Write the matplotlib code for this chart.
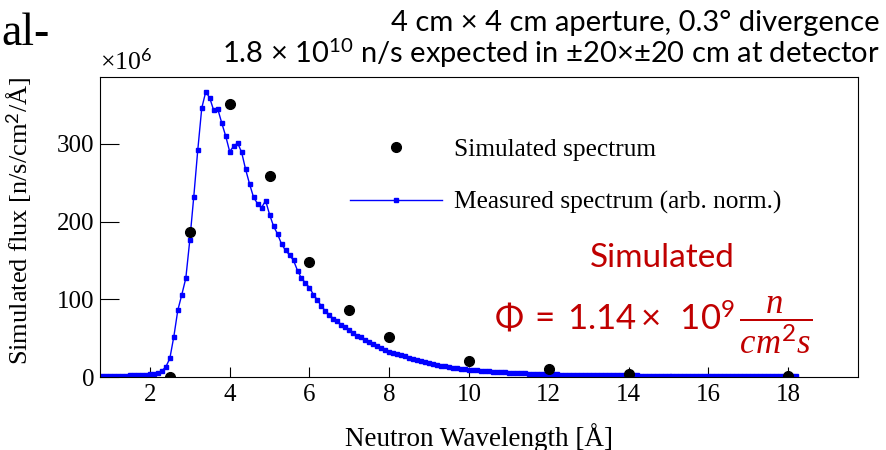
import numpy as np
import matplotlib
matplotlib.use("Agg")
import matplotlib.pyplot as plt

plt.rcParams["mathtext.fontset"] = "custom"
plt.rcParams["mathtext.rm"] = "Lato"
plt.rcParams["mathtext.it"] = "Liberation Serif:italic"
plt.rcParams["mathtext.bf"] = "Lato:bold"

# simulated spectrum (x10^6 n/s/cm2/A)
lam_sim = [2.5, 3, 4, 5, 6, 7, 8, 10, 12, 14, 18]
flux_sim = [0.5, 186, 351, 259, 148, 86, 51.5, 20, 10, 4.5, 1.5]

# measured spectrum, 0.1 A bins from 0.8 to 18.2 A (arb. norm.)
lam_meas = np.round(np.arange(0.8, 18.25, 0.1), 1)
flux_meas = (
    [1.0, 1.2, 1.1, 1.4, 1.5, 1.7, 1.9, 2.1, 2.3, 2.6, 2.9, 3.2]
    + [3.6, 4.4, 5.8, 8.0, 13, 24, 52, 86, 106, 127,
       176, 232, 292, 346, 367, 359, 343, 345, 327, 310,
       290, 297, 301, 289, 267, 248, 231, 223, 218, 227,
       209, 194, 184, 171, 163, 157, 150, 137, 127, 121,
       115, 106, 99, 91, 85, 80, 75, 72, 67, 64,
       60, 57, 53, 51, 47, 45, 42, 40, 37, 35,
       32]
    + [31, 29, 28, 26.5, 25, 23.5, 22, 20.5, 19.5,
       18, 17, 15.5, 14.5, 13.8, 12.8, 12, 11.2, 10.6, 10,
       9.5, 9, 8.6, 8, 7.6, 7.3, 6.8, 6.5, 6.2, 5.9,
       5.6, 5.3, 5.1, 4.8, 4.6, 4.4, 4.2, 4.0, 3.9, 3.7,
       3.5, 3.4, 3.3, 3.2, 3.1, 3.0, 2.9, 2.8, 2.8, 2.7,
       2.6, 2.6, 2.5, 2.4, 2.4, 2.3, 2.3, 2.2, 2.2, 2.1,
       2.1, 2.0, 2.0, 1.9, 1.9, 1.9, 1.8, 1.8, 1.8, 1.7,
       1.7, 1.7, 1.6, 1.6, 1.6, 1.6, 1.5, 1.5, 1.5, 1.5,
       1.4, 1.5, 1.4, 1.4, 1.3, 1.4, 1.3, 1.3, 1.3, 1.2,
       1.2, 1.3, 1.2, 1.2, 1.1, 1.2, 1.1, 1.1, 1.1, 1.0,
       1.0, 1.1, 1.0]
)

x_ticks = [2, 4, 6, 8, 10, 12, 14, 16, 18]
y_ticks = [0, 100, 200, 300]

fig = plt.figure(figsize=(8.86, 4.5), dpi=100)
ax = fig.add_axes([0.1129, 0.1622, 0.8555, 0.6667])

ax.plot(lam_meas, flux_meas, color="#0000ff", lw=1.0, marker="s", ms=2.2,
        mec="#0000ff", label="Measured spectrum (arb. norm.)", zorder=2)
ax.plot(lam_sim, flux_sim, ls="none", marker="o", ms=7, color="black",
        label="Simulated spectrum", zorder=3)

ax.set_xlim(0.75, 19.75)
ax.set_ylim(0, 386)
ax.set_xticks(x_ticks)
ax.set_yticks(y_ticks)

serif = "Liberation Serif"
for lab in ax.get_xticklabels() + ax.get_yticklabels():
    lab.set_fontfamily(serif)
    lab.set_fontsize(18)
ax.tick_params(axis="x", direction="in", length=7, width=0.8, pad=5)
ax.tick_params(axis="y", direction="in", length=14, width=0.8, pad=4)
for s in ax.spines.values():
    s.set_linewidth(0.8)

ax.set_xlabel("Neutron Wavelength [Å]", fontfamily=serif, fontsize=19.5,
              labelpad=12)
ax.set_ylabel("Simulated flux [n/s/cm$^2$/Å]", fontfamily=serif, fontsize=19,
              loc="top")
ax.yaxis.set_label_coords(-0.087, 1.0)

ax.text(0.0, 1.005, "×10$^6$", transform=ax.transAxes, fontfamily=serif,
        fontsize=18.5, ha="left", va="bottom")

handles, labels = ax.get_legend_handles_labels()
leg = ax.legend(handles[::-1], labels[::-1], loc="upper left",
                bbox_to_anchor=(0.30, 0.873), frameon=False,
                prop={"family": serif, "size": 18.3}, handlelength=3.6,
                handletextpad=0.47, labelspacing=1.2)

red = "#c00000"
fig.text(0.748, 0.407, "Simulated", fontfamily="Lato", fontsize=24,
         color=red, ha="center", va="baseline")
fig.text(0.558, 0.267,
         r"$\Phi\;=\;1.14\times\;\;10^9\,\dfrac{\ n\ }{cm^2s}$",
         fontfamily="Lato", fontsize=25, color=red, ha="left", va="baseline")

fig.text(0.993, 0.931, "4 cm × 4 cm aperture, 0.3° divergence",
         fontfamily="Lato", fontsize=21, ha="right", va="baseline")
fig.text(0.993, 0.86, "1.8 × 10$^{10}$ n/s expected in ±20×±20 cm at detector",
         fontfamily="Lato", fontsize=21, ha="right", va="baseline")

fig.text(0.001, 0.9, "al-", fontfamily=serif, fontsize=33,
         ha="left", va="baseline")

fig.savefig("out.png", dpi=100)
